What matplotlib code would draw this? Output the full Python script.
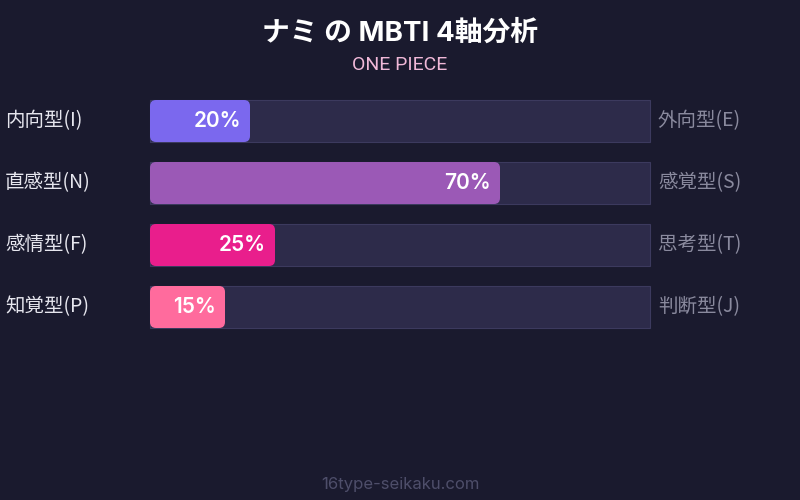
import matplotlib
matplotlib.use("Agg")
import matplotlib.pyplot as plt
from matplotlib.patches import FancyBboxPatch, Rectangle

plt.rcParams["font.family"] = ["Noto Sans CJK JP", "DejaVu Sans"]

title = "ナミ の MBTI 4軸分析"
subtitle = "ONE PIECE"
footer = "16type-seikaku.com"
left_labels = ["内向型(I)", "直感型(N)", "感情型(F)", "知覚型(P)"]
right_labels = ["外向型(E)", "感覚型(S)", "思考型(T)", "判断型(J)"]
values = [20, 70, 25, 15]
colors = ["#7b68ee", "#9b59b6", "#e91e8c", "#ff6b9d"]

BG = "#1a1a2e"
TRACK = "#2d2b4a"
TRACK_EDGE = "#3c3a5e"

fig = plt.figure(figsize=(8, 5), dpi=100, facecolor=BG)
ax = fig.add_axes([0, 0, 1, 1])
ax.set_facecolor(BG)
ax.set_xlim(0, 800)
ax.set_ylim(500, 0)
ax.axis("off")

x0, track_w, bar_h = 150, 500, 42
y_top, step = 100, 62

for i, (lab_l, lab_r, v, c) in enumerate(zip(left_labels, right_labels, values, colors)):
    y = y_top + i * step
    ax.add_patch(Rectangle((x0, y), track_w, bar_h, facecolor=TRACK,
                           edgecolor=TRACK_EDGE, linewidth=0.8, zorder=1))
    w = track_w * v / 100
    ax.add_patch(FancyBboxPatch((x0, y), w, bar_h,
                                boxstyle="round,pad=0,rounding_size=6",
                                facecolor=c, edgecolor="none", zorder=2))
    ax.text(x0 + w - 9, y + bar_h / 2, f"{v}%", ha="right", va="center",
            color="white", fontsize=15, fontweight="semibold",
            family=["Inter", "DejaVu Sans"], zorder=3)
    ax.text(5, y + bar_h / 2, lab_l, ha="left", va="center",
            color="#e6e6ee", fontsize=14)
    ax.text(658, y + bar_h / 2, lab_r, ha="left", va="center",
            color="#8a8a9e", fontsize=14)

ax.text(400, 34, title, ha="center", va="center", color="white",
        fontsize=20, fontweight="bold", family=["Inter", "Noto Sans CJK JP"])
ax.text(400, 65, subtitle, ha="center", va="center", color="#f0b8d8",
        fontsize=14, family=["Roboto", "DejaVu Sans"])
ax.text(400, 484, footer, ha="center", va="center", color="#4e4e6a",
        fontsize=12, family=["Inter", "DejaVu Sans"])

fig.savefig("out.png", dpi=100, facecolor=BG)
